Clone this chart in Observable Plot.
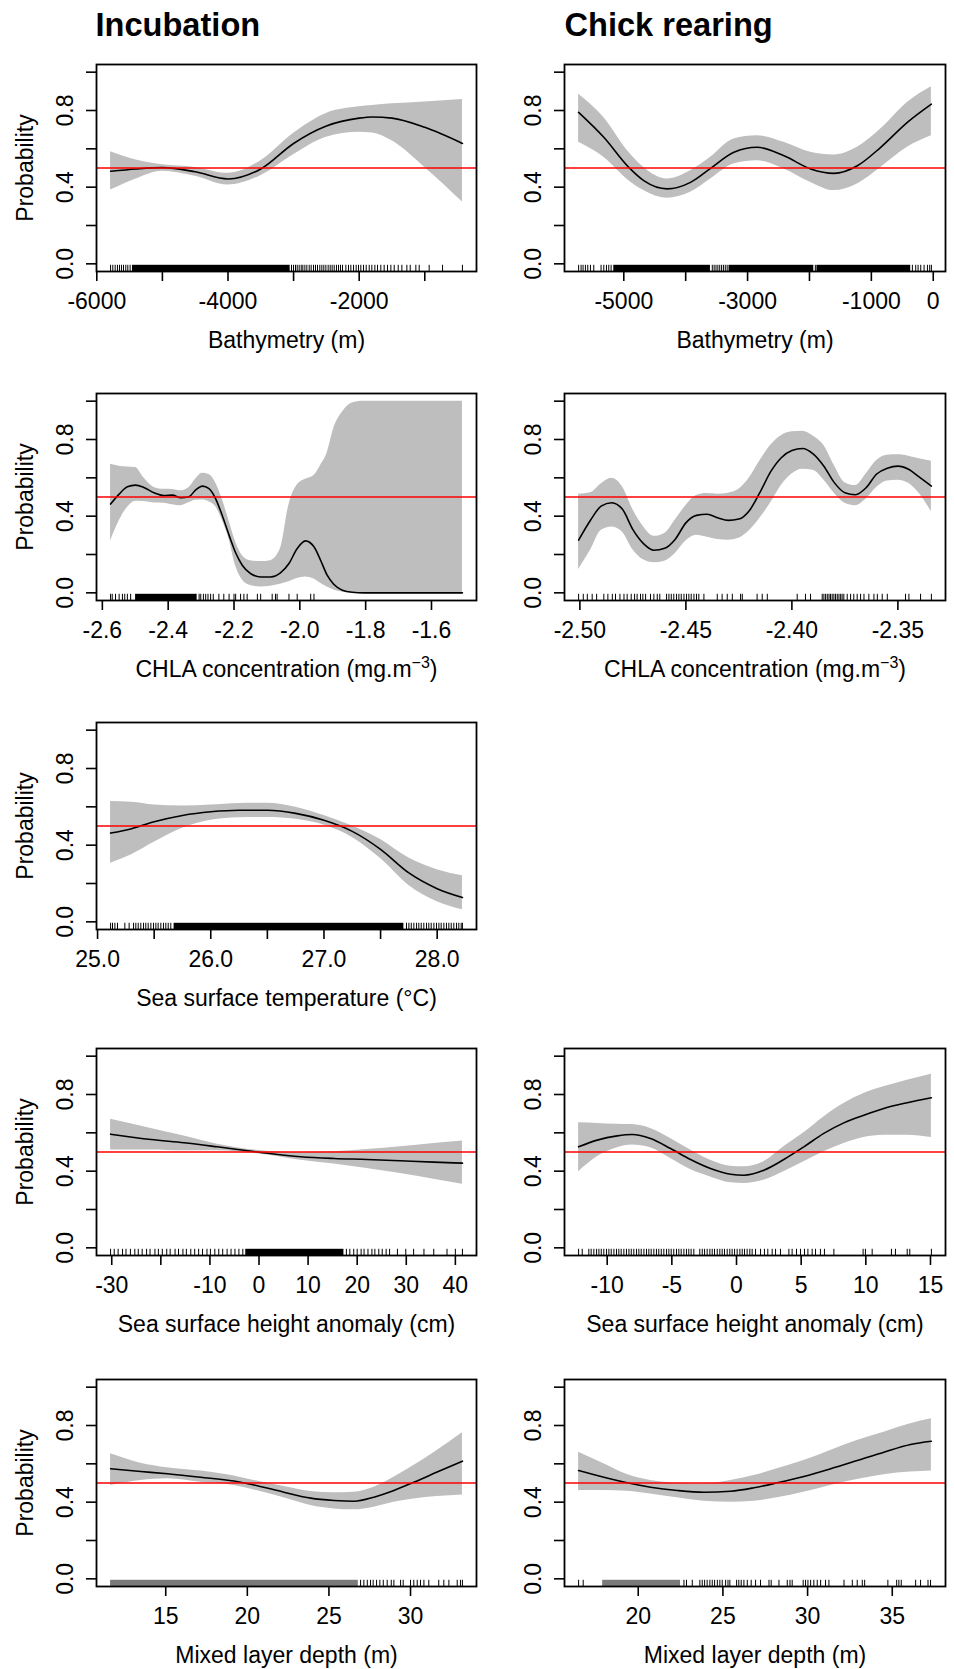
<!DOCTYPE html>
<html><head><meta charset="utf-8">
<script src="https://cdn.jsdelivr.net/npm/d3@7"></script>
<script src="https://cdn.jsdelivr.net/npm/@observablehq/plot@0.6"></script>
<style>
html,body{margin:0;padding:0;background:#fff;overflow:hidden;}
#chart{position:relative;width:954px;height:1669px;overflow:hidden;}
#chart svg{position:absolute;}
</style></head><body><div id="chart"></div>
<script>
// ---------------- data ----------------
const columnTitles = ["Incubation", "Chick rearing"];
const yLabel = "Probability";
const probTicks = [0, 0.2, 0.4, 0.6, 0.8, 1.0];
const probTickLabels = ["0.0", "", "0.4", "", "0.8", ""];
const threshold = 0.5;

const xLabelBathy = "Bathymetry (m)";
const xLabelChla = "CHLA concentration (mg.m^{\u22123})";
const xLabelSst = "Sea surface temperature (\u00B0C)";
const xLabelSsh = "Sea surface height anomaly (cm)";
const xLabelMld = "Mixed layer depth (m)";

// Incubation - bathymetry
const incBathyX   = [-5790, -5400, -5000, -4500, -4000, -3500, -3000, -2500, -2000, -1800, -1500, -1000, -426];
const incBathyFit = [0.483, 0.495, 0.502, 0.480, 0.443, 0.495, 0.628, 0.719, 0.760, 0.766, 0.760, 0.712, 0.628];
const incBathyLo  = [0.385, 0.443, 0.483, 0.457, 0.411, 0.460, 0.569, 0.660, 0.686, 0.683, 0.642, 0.503, 0.323];
const incBathyHi  = [0.585, 0.542, 0.517, 0.503, 0.472, 0.538, 0.681, 0.785, 0.819, 0.826, 0.835, 0.845, 0.858];
const incBathyTicks = [-6000, -5000, -4000, -3000, -2000, -1000];
const incBathyTickLabels = ["-6000", "", "-4000", "", "-2000", ""];
const incBathyRug = [-5790, -5756, -5720, -5685, -5654, -5624, -5593, -5558, -5527, -5492, -3032, -3001, -2971, -2945, -2915, -2884, -2859, -2828, -2798, -2762, -2732, -2696, -2666, -2635, -2600, -2569, -2539, -2508, -2473, -2442, -2412, -2381, -2346, -2315, -2285, -2254, -2203, -2163, -2127, -2086, -2046, -2010, -1975, -1934, -1893, -1847, -1807, -1761, -1720, -1670, -1619, -1568, -1517, -1466, -1405, -1349, -1273, -1222, -1136, -1085, -933, -729, -426];
const incBathyRugDense = [[-5456, -3052]];

// Chick rearing - bathymetry
const chkBathyX   = [-5730, -5323, -4919, -4677, -4300, -3922, -3598, -3221, -2844, -2412, -1981, -1604, -1226, -849, -418, -30];
const chkBathyFit = [0.790, 0.660, 0.503, 0.434, 0.391, 0.425, 0.498, 0.582, 0.608, 0.564, 0.495, 0.472, 0.512, 0.608, 0.738, 0.833];
const chkBathyLo  = [0.634, 0.556, 0.434, 0.382, 0.342, 0.373, 0.443, 0.521, 0.538, 0.495, 0.425, 0.382, 0.417, 0.503, 0.608, 0.668];
const chkBathyHi  = [0.885, 0.764, 0.582, 0.503, 0.443, 0.486, 0.556, 0.651, 0.668, 0.634, 0.582, 0.568, 0.608, 0.703, 0.842, 0.924];
const chkBathyTicks = [-5000, -4000, -3000, -2000, -1000, 0];
const chkBathyTickLabels = ["-5000", "", "-3000", "", "-1000", "0"];
const chkBathyRug = [-5730, -5690, -5658, -5620, -5582, -5539, -5485, -5367, -5323, -5280, -5243, -5205, -3570, -3540, -3510, -3480, -3450, -3420, -3390, -3360, -3330, -1905, -337, -283, -245, -202, -148, -94, -57, -30];
const chkBathyRugDense = [[-5162, -3600], [-3300, -1930], [-1880, -364]];

// Incubation - CHLA
const incChlaX   = [-2.575, -2.549, -2.524, -2.499, -2.474, -2.443, -2.413, -2.387, -2.362, -2.337, -2.317, -2.296, -2.276, -2.256, -2.236, -2.215, -2.195, -2.175, -2.150, -2.119, -2.089, -2.059, -2.033, -2.008, -1.983, -1.957, -1.937, -1.917, -1.897, -1.871, -1.841, -1.806, -1.506];
const incChlaFit = [0.463, 0.515, 0.553, 0.562, 0.550, 0.522, 0.508, 0.510, 0.496, 0.501, 0.536, 0.557, 0.544, 0.492, 0.405, 0.301, 0.209, 0.144, 0.101, 0.083, 0.083, 0.104, 0.153, 0.231, 0.271, 0.240, 0.170, 0.092, 0.045, 0.014, 0.003, 0.000, 0.000];
const incChlaLo  = [0.271, 0.375, 0.445, 0.478, 0.476, 0.469, 0.468, 0.460, 0.455, 0.470, 0.483, 0.484, 0.475, 0.450, 0.380, 0.280, 0.140, 0.068, 0.038, 0.031, 0.035, 0.045, 0.058, 0.075, 0.083, 0.072, 0.050, 0.030, 0.015, 0.004, 0.000, 0.000, 0.000];
const incChlaHi  = [0.671, 0.661, 0.657, 0.654, 0.600, 0.550, 0.540, 0.539, 0.532, 0.548, 0.592, 0.624, 0.617, 0.575, 0.490, 0.375, 0.265, 0.195, 0.168, 0.163, 0.168, 0.230, 0.460, 0.562, 0.592, 0.612, 0.665, 0.730, 0.857, 0.942, 0.990, 1.000, 1.000];
const incChlaTicks = [-2.6, -2.4, -2.2, -2.0, -1.8, -1.6];
const incChlaTickLabels = ["-2.6", "-2.4", "-2.2", "-2.0", "-1.8", "-1.6"];
const incChlaRug = [-2.575, -2.570, -2.560, -2.549, -2.539, -2.532, -2.524, -2.514, -2.306, -2.301, -2.293, -2.286, -2.279, -2.271, -2.263, -2.246, -2.231, -2.215, -2.200, -2.195, -2.180, -2.170, -2.160, -2.129, -2.119, -2.084, -2.074, -2.069, -2.033, -2.008, -1.967, -1.957];
const incChlaRugDense = [[-2.499, -2.312]];

// Chick rearing - CHLA
const chkChlaX   = [-2.5006, -2.495, -2.490, -2.485, -2.480, -2.475, -2.470, -2.465, -2.460, -2.455, -2.450, -2.445, -2.440, -2.435, -2.430, -2.425, -2.420, -2.415, -2.410, -2.405, -2.400, -2.395, -2.390, -2.385, -2.380, -2.375, -2.370, -2.365, -2.360, -2.355, -2.350, -2.345, -2.340, -2.3342];
const chkChlaFit = [0.275, 0.379, 0.452, 0.470, 0.437, 0.330, 0.257, 0.222, 0.232, 0.280, 0.365, 0.404, 0.410, 0.392, 0.378, 0.385, 0.430, 0.525, 0.632, 0.705, 0.742, 0.753, 0.725, 0.662, 0.575, 0.522, 0.512, 0.548, 0.620, 0.650, 0.661, 0.645, 0.605, 0.557];
const chkChlaLo  = [0.122, 0.222, 0.325, 0.344, 0.318, 0.225, 0.172, 0.157, 0.165, 0.205, 0.270, 0.300, 0.290, 0.278, 0.275, 0.285, 0.325, 0.390, 0.470, 0.560, 0.620, 0.645, 0.640, 0.590, 0.520, 0.468, 0.455, 0.490, 0.550, 0.583, 0.588, 0.572, 0.520, 0.423];
const chkChlaHi  = [0.515, 0.522, 0.568, 0.598, 0.555, 0.435, 0.345, 0.295, 0.310, 0.380, 0.455, 0.508, 0.518, 0.515, 0.520, 0.540, 0.600, 0.690, 0.770, 0.820, 0.840, 0.843, 0.818, 0.770, 0.665, 0.575, 0.560, 0.620, 0.690, 0.718, 0.720, 0.713, 0.700, 0.687];
const chkChlaTicks = [-2.50, -2.45, -2.40, -2.35];
const chkChlaTickLabels = ["-2.50", "-2.45", "-2.40", "-2.35"];
const chkChlaRug = [-2.5006, -2.4984, -2.4965, -2.4942, -2.4921, -2.4887, -2.4868, -2.4847, -2.4832, -2.4811, -2.4792, -2.4777, -2.4758, -2.4742, -2.4730, -2.4714, -2.4703, -2.4690, -2.4667, -2.4651, -2.4635, -2.4623, -2.4591, -2.4580, -2.4569, -2.4557, -2.4544, -2.4533, -2.4522, -2.4509, -2.4497, -2.4486, -2.4475, -2.4462, -2.4450, -2.4439, -2.4415, -2.4352, -2.4329, -2.4305, -2.4281, -2.4242, -2.4234, -2.4164, -2.4140, -2.4116, -2.3975, -2.3936, -2.3912, -2.3857, -2.3849, -2.3841, -2.3833, -2.3825, -2.3818, -2.3810, -2.3802, -2.3794, -2.3786, -2.3778, -2.3770, -2.3763, -2.3755, -2.3739, -2.3723, -2.3708, -2.3692, -2.3676, -2.3660, -2.3637, -2.3613, -2.3597, -2.3574, -2.3550, -2.3464, -2.3448, -2.3393, -2.3342];
const chkChlaRugDense = [];

// Incubation - SST
const incSstX   = [25.115, 25.3, 25.5, 25.75, 26.0, 26.25, 26.5, 26.75, 27.0, 27.25, 27.5, 27.75, 28.0, 28.223];
const incSstFit = [0.463, 0.486, 0.522, 0.555, 0.574, 0.582, 0.582, 0.566, 0.530, 0.472, 0.378, 0.255, 0.173, 0.127];
const incSstLo  = [0.306, 0.350, 0.415, 0.488, 0.530, 0.543, 0.544, 0.535, 0.505, 0.440, 0.330, 0.190, 0.105, 0.063];
const incSstHi  = [0.628, 0.624, 0.610, 0.605, 0.610, 0.618, 0.619, 0.598, 0.555, 0.500, 0.430, 0.333, 0.272, 0.240];
const incSstTicks = [25, 25.5, 26, 26.5, 27, 27.5, 28];
const incSstTickLabels = ["25.0", "", "26.0", "", "27.0", "", "28.0"];
const incSstRug = [25.115, 25.132, 25.153, 25.176, 25.241, 25.279, 25.318, 25.338, 25.359, 25.382, 25.406, 25.426, 25.447, 25.471, 25.494, 25.515, 25.535, 25.559, 25.582, 25.603, 25.624, 25.647, 27.729, 27.75, 27.771, 27.794, 27.818, 27.838, 27.859, 27.882, 27.906, 27.926, 27.947, 27.971, 27.994, 28.015, 28.035, 28.059, 28.082, 28.103, 28.124, 28.147, 28.171, 28.191, 28.212, 28.223];
const incSstRugDense = [[25.676, 27.706]];

// Incubation - SSH
const incSshX   = [-30.24, -22.0, -15.3, -8.5, 0, 8.5, 15.3, 22.0, 28.8, 35.6, 41.44];
const incSshFit = [0.593, 0.565, 0.548, 0.527, 0.499, 0.475, 0.466, 0.461, 0.454, 0.447, 0.442];
const incSshLo  = [0.510, 0.510, 0.506, 0.506, 0.489, 0.457, 0.437, 0.414, 0.388, 0.358, 0.332];
const incSshHi  = [0.671, 0.623, 0.583, 0.541, 0.508, 0.497, 0.501, 0.513, 0.527, 0.544, 0.558];
const incSshTicks = [-30, -20, -10, 0, 10, 20, 30, 40];
const incSshTickLabels = ["-30", "", "-10", "0", "10", "20", "30", "40"];
const incSshRug = [-30.24, -29.5, -28.7, -27.8, -27.1, -26.2, -25.3, -24.6, -23.8, -22.9, -22.2, -21.2, -20.5, -19.7, -18.8, -18.1, -17.1, -16.4, -15.5, -14.8, -13.9, -13.1, -12.3, -11.5, -10.6, -9.9, -9.0, -8.2, -7.4, -6.5, -5.7, -4.9, -4.1, -3.3, 17.8, 18.5, 19.3, 20.0, 20.8, 21.4, 22.2, 23.0, 23.6, 24.4, 25.1, 25.9, 26.6, 28.2, 29.9, 31.5, 33.6, 35.6, 38.3, 40.0, 41.44];
const incSshRugDense = [[-2.7, 17.3]];

// Chick rearing - SSH
const chkSshX   = [-12.21, -10.77, -9.23, -8.07, -6.65, -5.10, -3.56, -2.01, -0.46, 0.57, 2.11, 3.66, 5.21, 6.75, 8.30, 9.85, 11.39, 13.20, 15.07];
const chkSshFit = [0.527, 0.562, 0.584, 0.591, 0.570, 0.518, 0.461, 0.414, 0.384, 0.379, 0.405, 0.461, 0.527, 0.597, 0.652, 0.692, 0.727, 0.757, 0.783];
const chkSshLo  = [0.397, 0.475, 0.522, 0.536, 0.522, 0.466, 0.409, 0.370, 0.339, 0.336, 0.353, 0.397, 0.449, 0.501, 0.544, 0.576, 0.588, 0.588, 0.576];
const chkSshHi  = [0.652, 0.649, 0.645, 0.643, 0.623, 0.570, 0.510, 0.457, 0.426, 0.423, 0.449, 0.527, 0.600, 0.683, 0.753, 0.805, 0.840, 0.875, 0.906];
const chkSshTicks = [-10, -5, 0, 5, 10, 15];
const chkSshTickLabels = ["-10", "-5", "0", "5", "10", "15"];
const chkSshRug = [-12.21, -11.93, -11.42, -11.24, -11.03, -10.82, -10.64, -10.46, -10.26, -10.05, -9.87, -9.69, -9.48, -9.28, -9.10, -8.92, -8.71, -8.51, -8.32, -8.14, -7.94, -7.73, -7.55, -7.37, -7.16, -6.96, -6.78, -6.60, -6.39, -6.19, -6.01, -5.82, -5.62, -5.41, -5.23, -5.05, -4.85, -4.64, -4.46, -4.28, -4.07, -3.87, -3.69, -3.51, -3.30, -2.84, -2.65, -2.47, -2.27, -2.06, -1.88, -1.70, -1.49, -1.29, -1.11, -0.93, -0.72, -0.52, -0.34, -0.15, 0.05, 0.26, 0.44, 0.62, 0.82, 1.03, 1.21, 1.47, 1.86, 2.16, 2.42, 2.76, 3.02, 3.40, 4.05, 4.30, 4.64, 4.95, 5.26, 5.52, 5.85, 6.11, 6.49, 6.80, 7.53, 9.79, 9.97, 10.49, 11.98, 12.29, 13.20, 13.40, 15.07];
const chkSshRugDense = [];

// Incubation - MLD
const incMldX   = [11.62, 13.47, 15.10, 17.14, 19.18, 20.41, 22.24, 23.88, 25.31, 26.53, 27.76, 28.98, 30.20, 31.63, 33.18];
const incMldFit = [0.574, 0.560, 0.548, 0.530, 0.510, 0.490, 0.452, 0.421, 0.409, 0.405, 0.426, 0.461, 0.504, 0.557, 0.614];
const incMldLo  = [0.487, 0.513, 0.522, 0.504, 0.487, 0.464, 0.423, 0.383, 0.365, 0.360, 0.374, 0.400, 0.417, 0.430, 0.438];
const incMldHi  = [0.652, 0.603, 0.579, 0.562, 0.536, 0.513, 0.482, 0.456, 0.449, 0.452, 0.478, 0.530, 0.591, 0.670, 0.762];
const incMldTicks = [15, 20, 25, 30];
const incMldTickLabels = ["15", "20", "25", "30"];
const incMldRug = [26.94, 27.14, 27.35, 27.55, 27.71, 27.92, 28.12, 28.33, 28.57, 28.82, 28.98, 29.39, 29.55, 30.0, 30.20, 30.41, 30.61, 30.82, 31.12, 31.73, 32.04, 32.35, 32.86, 33.06, 33.18];
const incMldRugFine = [[11.62, 26.8]];

// Chick rearing - MLD
const chkMldX   = [16.48, 17.97, 19.35, 20.73, 22.30, 23.88, 25.45, 26.83, 28.21, 29.78, 31.36, 32.93, 34.51, 36.08, 37.31];
const chkMldFit = [0.565, 0.530, 0.501, 0.478, 0.461, 0.452, 0.457, 0.475, 0.501, 0.534, 0.574, 0.617, 0.661, 0.701, 0.718];
const chkMldLo  = [0.461, 0.461, 0.457, 0.443, 0.423, 0.405, 0.400, 0.405, 0.423, 0.452, 0.487, 0.518, 0.543, 0.557, 0.562];
const chkMldHi  = [0.661, 0.600, 0.544, 0.513, 0.499, 0.496, 0.513, 0.539, 0.574, 0.617, 0.670, 0.722, 0.765, 0.809, 0.835];
const chkMldTicks = [20, 25, 30, 35];
const chkMldTickLabels = ["20", "25", "30", "35"];
const chkMldRug = [16.48, 16.75, 22.70, 22.85, 23.19, 23.64, 23.78, 23.92, 24.07, 24.23, 24.37, 24.51, 24.67, 24.82, 24.96, 25.16, 25.30, 25.41, 25.81, 25.94, 26.08, 26.24, 26.44, 26.67, 26.93, 27.22, 27.72, 27.85, 28.31, 28.80, 28.96, 29.09, 29.74, 29.88, 30.02, 30.18, 30.37, 30.57, 30.77, 31.06, 31.26, 32.15, 32.64, 32.93, 33.23, 33.37, 34.74, 35.26, 35.39, 35.53, 36.38, 36.67, 37.11, 37.26];
const chkMldRugFine = [[17.9, 22.5]];

// ---------------- layout ----------------
const FONT = "'Liberation Sans', Arial, Helvetica, sans-serif";
const FRAME_H = 207;
const ROW_TOPS = [64, 393, 722, 1048, 1379];
const COLS = [{left: 0, ml: 96, mr: 1}, {left: 477, ml: 87, mr: 9}];
const MB = 82;
const RUG_Y0 = -0.04, RUG_Y1 = -0.04 + 0.03 * 1.08;

const panels = [
  {row: 0, col: 0, title: columnTitles[0], x: incBathyX, fit: incBathyFit, lo: incBathyLo, hi: incBathyHi, ticks: incBathyTicks, tickLabels: incBathyTickLabels, rug: incBathyRug, dense: incBathyRugDense, fine: [], xlabel: xLabelBathy},
  {row: 0, col: 1, title: columnTitles[1], x: chkBathyX, fit: chkBathyFit, lo: chkBathyLo, hi: chkBathyHi, ticks: chkBathyTicks, tickLabels: chkBathyTickLabels, rug: chkBathyRug, dense: chkBathyRugDense, fine: [], xlabel: xLabelBathy},
  {row: 1, col: 0, x: incChlaX, fit: incChlaFit, lo: incChlaLo, hi: incChlaHi, ticks: incChlaTicks, tickLabels: incChlaTickLabels, rug: incChlaRug, dense: incChlaRugDense, fine: [], xlabel: xLabelChla},
  {row: 1, col: 1, x: chkChlaX, fit: chkChlaFit, lo: chkChlaLo, hi: chkChlaHi, ticks: chkChlaTicks, tickLabels: chkChlaTickLabels, rug: chkChlaRug, dense: chkChlaRugDense, fine: [], xlabel: xLabelChla},
  {row: 2, col: 0, x: incSstX, fit: incSstFit, lo: incSstLo, hi: incSstHi, ticks: incSstTicks, tickLabels: incSstTickLabels, rug: incSstRug, dense: incSstRugDense, fine: [], xlabel: xLabelSst},
  {row: 3, col: 0, x: incSshX, fit: incSshFit, lo: incSshLo, hi: incSshHi, ticks: incSshTicks, tickLabels: incSshTickLabels, rug: incSshRug, dense: incSshRugDense, fine: [], xlabel: xLabelSsh},
  {row: 3, col: 1, x: chkSshX, fit: chkSshFit, lo: chkSshLo, hi: chkSshHi, ticks: chkSshTicks, tickLabels: chkSshTickLabels, rug: chkSshRug, dense: chkSshRugDense, fine: [], xlabel: xLabelSsh},
  {row: 4, col: 0, x: incMldX, fit: incMldFit, lo: incMldLo, hi: incMldHi, ticks: incMldTicks, tickLabels: incMldTickLabels, rug: incMldRug, dense: [], fine: incMldRugFine, xlabel: xLabelMld},
  {row: 4, col: 1, x: chkMldX, fit: chkMldFit, lo: chkMldLo, hi: chkMldHi, ticks: chkMldTicks, tickLabels: chkMldTickLabels, rug: chkMldRug, dense: [], fine: chkMldRugFine, xlabel: xLabelMld}
];

const chart = document.getElementById("chart");
const yLabelMap = new Map(probTicks.map((t, i) => [t, probTickLabels[i]]));

function superscripts(svg) {
  const ns = "http://www.w3.org/2000/svg";
  for (const t of svg.querySelectorAll("text")) {
    const m = t.textContent.match(/^(.*)\^\{(.*)\}(.*)$/);
    if (!m) continue;
    t.textContent = "";
    const a = document.createElementNS(ns, "tspan"); a.textContent = m[1];
    const b = document.createElementNS(ns, "tspan"); b.textContent = m[2];
    b.setAttribute("dy", "-9"); b.setAttribute("font-size", "16");
    const c = document.createElementNS(ns, "tspan"); c.textContent = m[3];
    c.setAttribute("dy", "9");
    t.append(a, b, c);
  }
}

for (const p of panels) {
  const [x0, x1] = d3.extent(p.x);
  const pad = 0.04 * (x1 - x0);
  const rows = p.x.map((x, i) => ({x, fit: p.fit[i], lo: p.lo[i], hi: p.hi[i]}));
  const xLabelMap = new Map(p.ticks.map((t, i) => [t, p.tickLabels[i]]));
  const col = COLS[p.col];
  const mt = p.row === 0 ? ROW_TOPS[0] : 10;
  const top = p.row === 0 ? 0 : ROW_TOPS[p.row] - 10;
  const marks = [
    Plot.areaY(rows, {x: "x", y1: "lo", y2: "hi", fill: "#BEBEBE", curve: "monotone-x"}),
    Plot.line(rows, {x: "x", y: "fit", stroke: "#000", strokeWidth: 1.6, curve: "monotone-x"}),
    Plot.ruleY([threshold], {stroke: "#FF0000", strokeWidth: 1.7}),
    Plot.rect(p.dense, {x1: d => d[0], x2: d => d[1], y1: RUG_Y0, y2: RUG_Y1, fill: "#000"}),
    Plot.rect(p.fine, {x1: d => d[0], x2: d => d[1], y1: RUG_Y0, y2: RUG_Y1, fill: "#7a7a7a"}),
    Plot.ruleX(p.rug, {x: d => d, y1: RUG_Y0, y2: RUG_Y1, stroke: "#000", strokeWidth: 1}),
    Plot.frame({stroke: "#000", strokeWidth: 1.8}),
    Plot.axisX({ticks: p.ticks, tickFormat: d => xLabelMap.get(d) ?? "", tickSize: 10, tickPadding: 11, fontSize: 23, strokeWidth: 1.6, label: null}),
    Plot.axisY({ticks: probTicks, tickFormat: d => yLabelMap.get(d) ?? "", tickSize: 10, tickPadding: 14, tickRotate: -90, fontSize: 23, strokeWidth: 1.6, label: null}),
    Plot.text([p.xlabel], {text: d => d, frameAnchor: "bottom", dy: 76, lineAnchor: "bottom", fontSize: 23})
  ];
  if (p.col === 0) marks.push(Plot.text([yLabel], {text: d => d, frameAnchor: "left", rotate: -90, dx: -64, lineAnchor: "bottom", textAnchor: "middle", fontSize: 23}));
  if (p.title) marks.push(Plot.text([p.title], {text: d => d, frameAnchor: "top-left", dx: p.col === 0 ? -1 : 0, dy: -29, lineAnchor: "bottom", textAnchor: "start", fontSize: 32.6, fontWeight: "bold"}));
  const svg = Plot.plot({
    width: 477, height: mt + FRAME_H + MB,
    marginLeft: col.ml, marginRight: col.mr, marginTop: mt, marginBottom: MB,
    x: {domain: [x0 - pad, x1 + pad]},
    y: {domain: [-0.04, 1.04]},
    style: {fontFamily: FONT, fontSize: "23px", color: "#000", background: "transparent", overflow: "visible"},
    marks
  });
  superscripts(svg);
  svg.style.left = col.left + "px";
  svg.style.top = top + "px";
  chart.appendChild(svg);
}
</script></body></html>
